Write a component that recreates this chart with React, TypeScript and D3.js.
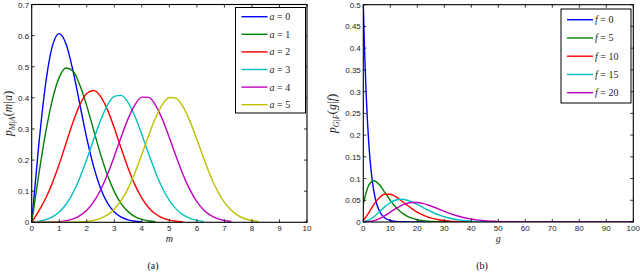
import React from 'react';
import * as d3 from 'd3';

// ---------- Panel (a): p_{M|A}(m|a) ----------
const M_GRID = [0, 0.25, 0.5, 0.75, 1, 1.25, 1.5, 1.75, 2, 2.25, 2.5, 2.75, 3, 3.25, 3.5, 3.75, 4, 4.25, 4.5, 4.75, 5, 5.25, 5.5, 5.75, 6, 6.25, 6.5, 6.75, 7, 7.25, 7.5, 7.75, 8, 8.25];
const A_LABELS = ['0', '1', '2', '3', '4', '5'];
const A0 = [0, 0.2423, 0.4412, 0.5661, 0.6065, 0.5722, 0.487, 0.3786, 0.2707, 0.179, 0.1098, 0.0627, 0.0333, 0.0165, 0.0077, 0.0033, 0.0013];
const A1 = [0, 0.1493, 0.2846, 0.3933, 0.4658, 0.4961, 0.4864, 0.4408, 0.3743, 0.2961, 0.2191, 0.1517, 0.0986, 0.06, 0.0343, 0.0183, 0.0092, 0.0043, 0.0019];
const A2 = [0, 0.0349, 0.0756, 0.1262, 0.1871, 0.2548, 0.3217, 0.3781, 0.4141, 0.4235, 0.405, 0.3622, 0.3033, 0.2378, 0.1747, 0.1203, 0.0776, 0.047, 0.0266, 0.0142, 0.0071, 0.0033, 0.0015];
const A3 = [0, 0.0031, 0.0081, 0.0172, 0.0329, 0.058, 0.0946, 0.1433, 0.2022, 0.266, 0.3272, 0.3762, 0.4049, 0.408, 0.3851, 0.3406, 0.2824, 0.2196, 0.1602, 0.1096, 0.0703, 0.0423, 0.0239, 0.0127, 0.0063, 0.003];
const A4 = [0, 0, 0.0003, 0.0009, 0.0023, 0.0052, 0.011, 0.0214, 0.0388, 0.0657, 0.1038, 0.1533, 0.2118, 0.2742, 0.3324, 0.3776, 0.4022, 0.4016, 0.3761, 0.3304, 0.2723, 0.2105, 0.1528, 0.104, 0.0665, 0.0399, 0.0225, 0.0119, 0.0059, 0.0027];
const A5 = [0, 0, 0, 0, 0.0001, 0.0002, 0.0005, 0.0012, 0.0028, 0.0062, 0.0125, 0.0238, 0.0422, 0.0701, 0.1092, 0.1593, 0.2178, 0.2793, 0.3359, 0.3789, 0.401, 0.3982, 0.371, 0.3244, 0.2662, 0.205, 0.1483, 0.1006, 0.0641, 0.0384, 0.0215, 0.0114, 0.0056, 0.0026];
const M_TICKS = [0, 1, 2, 3, 4, 5, 6, 7, 8, 9, 10];
const PA_TICKS = [0, 0.1, 0.2, 0.3, 0.4, 0.5, 0.6, 0.7];

// ---------- Panel (b): p_{G|F}(g|f) ----------
const G0_GRID = [0, 0.5, 1, 1.5, 2, 2.5, 3, 4, 5, 6, 7, 8, 10, 12, 14, 16, 20, 30, 40, 50, 60, 70, 80, 90, 100];
const F0 = [0.5, 0.3894, 0.3033, 0.2362, 0.1839, 0.1433, 0.1116, 0.0677, 0.041, 0.0249, 0.0151, 0.0092, 0.0034, 0.0012, 0.0005, 0.0002, 0, 0, 0, 0, 0, 0, 0, 0, 0];
const G_GRID = [0, 2, 4, 6, 8, 10, 12, 14, 16, 18, 20, 22, 24, 26, 28, 30, 32, 34, 36, 38, 40, 42, 44, 46, 48, 50, 60, 70, 80, 90, 100];
const F5 = [0.041, 0.0841, 0.0948, 0.0855, 0.068, 0.0498, 0.0343, 0.0226, 0.0143, 0.0088, 0.0052, 0.0031, 0.0018, 0.001, 0.0006, 0.0003, 0.0002, 0.0001, 0, 0, 0, 0, 0, 0, 0, 0, 0, 0, 0, 0, 0];
const F10 = [0.0034, 0.0211, 0.0413, 0.0566, 0.064, 0.0639, 0.0583, 0.0496, 0.0399, 0.0307, 0.0227, 0.0163, 0.0113, 0.0077, 0.0051, 0.0033, 0.0021, 0.0013, 0.0008, 0.0005, 0.0003, 0.0002, 0.0001, 0, 0, 0, 0, 0, 0, 0, 0];
const F15 = [0.0003, 0.0043, 0.0126, 0.0238, 0.0353, 0.0448, 0.0506, 0.0524, 0.0507, 0.0463, 0.0404, 0.0338, 0.0272, 0.0213, 0.0162, 0.012, 0.0087, 0.0062, 0.0043, 0.003, 0.002, 0.0013, 0.0009, 0.0006, 0.0004, 0.0002, 0, 0, 0, 0, 0];
const F20 = [0, 0.0008, 0.0032, 0.0079, 0.0147, 0.0227, 0.0307, 0.0376, 0.0425, 0.0449, 0.0449, 0.0428, 0.0391, 0.0345, 0.0295, 0.0245, 0.0198, 0.0156, 0.012, 0.0091, 0.0068, 0.005, 0.0036, 0.0025, 0.0018, 0.0012, 0.0002, 0, 0, 0, 0];
const F_LABELS = ['0', '5', '10', '15', '20'];
const G_TICKS = [0, 10, 20, 30, 40, 50, 60, 70, 80, 90, 100];
const PG_TICKS = [0, 0.05, 0.1, 0.15, 0.2, 0.25, 0.3, 0.35, 0.4, 0.45, 0.5];

const COLORS = ['#0000ff', '#008000', '#ff0000', '#00bfbf', '#bf00bf', '#bfbf00'];
const SANS = '"Liberation Sans", Arial, Helvetica, sans-serif';
const SERIF = '"Liberation Serif", "Times New Roman", serif';

type Series = { xs: number[]; ys: number[]; color: string; label: string };

function Panel(props: {
  x0: number; x1: number; y0: number; y1: number;
  xDomain: [number, number]; yDomain: [number, number];
  xTicks: number[]; yTicks: number[];
  series: Series[];
  legend: { x: number; y: number; w: number; h: number; first: number; step: number; sym: string };
  xLabel: string; ySub: string; yArg: string; yLabelX: number; caption: string; captionX: number;
}) {
  const { x0, x1, y0, y1, xDomain, yDomain, xTicks, yTicks, series, legend } = props;
  const x = d3.scaleLinear().domain(xDomain).range([x0, x1]);
  const y = d3.scaleLinear().domain(yDomain).range([y1, y0]);
  const line = d3.line<[number, number]>().x(d => x(d[0])).y(d => y(d[1])).curve(d3.curveMonotoneX);
  const tl = 3;
  const cx = (x0 + x1) / 2;
  const cy = (y0 + y1) / 2;
  const clipId = 'clip' + props.caption.replace(/\W/g, '');
  return (
    <g>
      <defs>
        <clipPath id={clipId}><rect x={x0} y={y0 - 1} width={x1 - x0} height={y1 - y0 + 1} /></clipPath>
      </defs>
      <rect x={x0} y={y0} width={x1 - x0} height={y1 - y0} fill="#fff" />
      <g clipPath={`url(#${clipId})`}>
        {series.map((s, i) => (
          <path key={i} d={line(s.ys.map((v, j) => [s.xs[j], v] as [number, number])) || ''} fill="none" stroke={s.color} strokeWidth={1.4} />
        ))}
      </g>
      <rect x={x0} y={y0} width={x1 - x0} height={y1 - y0} fill="none" stroke="#000" strokeWidth={1.1} />
      {xTicks.map(t => (
        <g key={'x' + t}>
          <line x1={x(t)} x2={x(t)} y1={y1} y2={y1 - tl} stroke="#000" strokeWidth={0.8} />
          <line x1={x(t)} x2={x(t)} y1={y0} y2={y0 + tl} stroke="#000" strokeWidth={0.8} />
          <text x={x(t)} y={y1 + 9} fontSize={8} fontFamily={SANS} textAnchor="middle" fill="#222">{t}</text>
        </g>
      ))}
      {yTicks.map(t => (
        <g key={'y' + t}>
          <line x1={x0} x2={x0 + tl} y1={y(t)} y2={y(t)} stroke="#000" strokeWidth={0.8} />
          <line x1={x1} x2={x1 - tl} y1={y(t)} y2={y(t)} stroke="#000" strokeWidth={0.8} />
          <text x={x0 - 2.5} y={y(t) + 3} fontSize={8} fontFamily={SANS} textAnchor="end" fill="#222">{t}</text>
        </g>
      ))}
      <text x={cx} y={y1 + 20} fontSize={10} fontFamily={SERIF} fontStyle="italic" textAnchor="middle" fill="#222">{props.xLabel}</text>
      <text transform={`translate(${props.yLabelX},${cy}) rotate(-90)`} fontSize={11.5} fontFamily={SERIF} textAnchor="middle" fill="#222">
        <tspan fontStyle="italic">p</tspan>
        <tspan fontSize={8} fontStyle="italic" dy={2.5}>{props.ySub}</tspan>
        <tspan dy={-2.5} fontSize={13}>(</tspan>
        <tspan fontStyle="italic">{props.yArg}</tspan>
        <tspan fontSize={13}>)</tspan>
      </text>
      <rect x={legend.x} y={legend.y} width={legend.w} height={legend.h} fill="#fff" stroke="#000" strokeWidth={1} />
      {series.map((s, i) => {
        const ly = legend.first + i * legend.step;
        return (
          <g key={'l' + i}>
            <line x1={legend.x + 6} x2={legend.x + 32} y1={ly} y2={ly} stroke={s.color} strokeWidth={1.4} />
            <text x={legend.x + 34} y={ly + 3.5} fontSize={10} fontFamily={SERIF} fill="#222">
              <tspan fontStyle="italic">{legend.sym}</tspan>
              <tspan> = {s.label}</tspan>
            </text>
          </g>
        );
      })}
      <text x={props.captionX} y={269} fontSize={10} fontFamily={SERIF} textAnchor="middle" fill="#111">{props.caption}</text>
    </g>
  );
}

export default function App() {
  const aSeries: Series[] = [A0, A1, A2, A3, A4, A5].map((ys, i) => ({ xs: M_GRID, ys, color: COLORS[i], label: A_LABELS[i] }));
  const fSeries: Series[] = [F0, F5, F10, F15, F20].map((ys, i) => ({ xs: i === 0 ? G0_GRID : G_GRID, ys, color: COLORS[i], label: F_LABELS[i] }));
  return (
    <svg width={640} height={272} style={{ position: 'absolute', left: 0, top: 0, background: '#fff' }}>
      <rect width={640} height={272} fill="#fff" />
      <Panel x0={31.7} x1={307} y0={4.5} y1={222.3} xDomain={[0, 10]} yDomain={[0, 0.7]}
        xTicks={M_TICKS} yTicks={PA_TICKS} series={aSeries}
        legend={{ x: 235.5, y: 7.5, w: 70, h: 105.5, first: 16.7, step: 17.6, sym: 'a' }}
        xLabel="m" ySub="M|A" yArg="m|a" yLabelX={12} caption="(a)" captionX={153} />
      <Panel x0={363.3} x1={633.3} y0={4.7} y1={222} xDomain={[0, 100]} yDomain={[0, 0.5]}
        xTicks={G_TICKS} yTicks={PG_TICKS} series={fSeries}
        legend={{ x: 561, y: 9, w: 70, h: 94, first: 19.7, step: 18.25, sym: 'f' }}
        xLabel="g" ySub="G|F" yArg="g|f" yLabelX={336} caption="(b)" captionX={482} />
    </svg>
  );
}
